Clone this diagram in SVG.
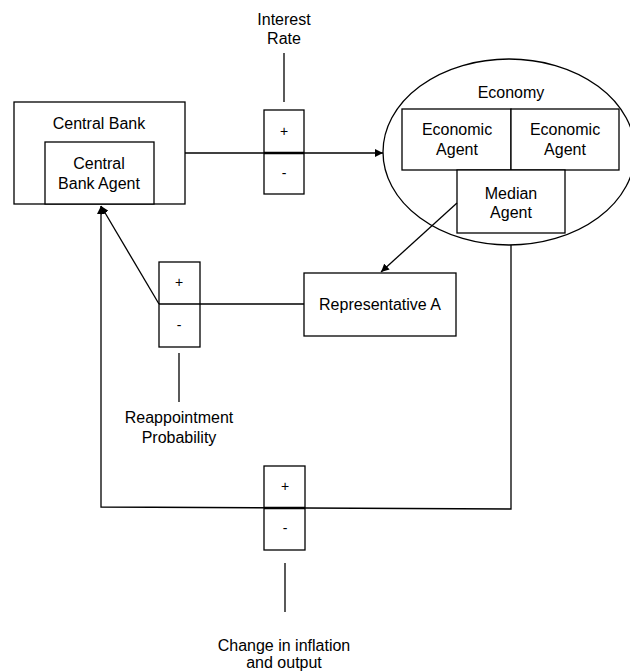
<svg xmlns="http://www.w3.org/2000/svg" width="630" height="672" viewBox="0 0 630 672">
<style>
.box{fill:#fff;stroke:#000;stroke-width:1.3}
.ln{fill:none;stroke:#000;stroke-width:1.3}
.mid{stroke:#000;stroke-width:2.5}
.t{font-family:"Liberation Sans",Arial,sans-serif;font-size:16px;fill:#000;text-anchor:middle}
.s{font-family:"Liberation Sans",Arial,sans-serif;font-size:14px;fill:#000;text-anchor:middle}
</style>
<defs>
<marker id="ah" viewBox="0 0 10 10" refX="10" refY="5" markerWidth="8" markerHeight="8" markerUnits="userSpaceOnUse" orient="auto">
<path d="M0,0 L10,5 L0,10 z" fill="#000"/>
</marker>
</defs>
<rect width="630" height="672" fill="#fff"/>
<g id="central-bank">
<rect class="box" x="14" y="102" width="171" height="102"/>
<text class="t" x="99" y="129">Central Bank</text>
</g>
<g id="central-bank-agent">
<rect class="box" x="45" y="142" width="109" height="62"/>
<text class="t" x="99" y="169">Central</text>
<text class="t" x="99" y="189">Bank Agent</text>
</g>
<g id="interest-rate">
<text class="t" x="284" y="25">Interest</text>
<text class="t" x="284" y="44">Rate</text>
</g>
<g id="sign-top">
<rect class="box" x="264" y="110" width="40" height="84"/>
<text class="s" x="284" y="136">+</text>
<text class="s" x="284" y="178">-</text>
</g>
<g id="economy">
<ellipse class="box" cx="509" cy="152" rx="126" ry="93"/>
<text class="t" x="511" y="98">Economy</text>
</g>
<g id="economic-agent-1">
<rect class="box" x="402" y="109" width="109" height="61"/>
<text class="t" x="457" y="135">Economic</text>
<text class="t" x="457" y="155">Agent</text>
</g>
<g id="economic-agent-2">
<rect class="box" x="511" y="109" width="108" height="61"/>
<text class="t" x="565" y="135">Economic</text>
<text class="t" x="565" y="155">Agent</text>
</g>
<g id="median-agent">
<rect class="box" x="457" y="170" width="108" height="63"/>
<text class="t" x="511" y="199">Median</text>
<text class="t" x="511" y="218">Agent</text>
</g>
<g id="sign-left">
<rect class="box" x="159" y="262" width="41" height="85"/>
<text class="s" x="179" y="287">+</text>
<text class="s" x="179" y="330">-</text>
</g>
<g id="representative-a">
<rect class="box" x="304" y="273" width="152" height="63"/>
<text class="t" x="380" y="310">Representative A</text>
</g>
<g id="reappointment">
<text class="t" x="179" y="423">Reappointment</text>
<text class="t" x="179" y="443">Probability</text>
</g>
<g id="sign-bottom">
<rect class="box" x="264" y="466" width="41" height="84"/>
<text class="s" x="285" y="491">+</text>
<text class="s" x="285" y="533">-</text>
</g>
<g id="change">
<text class="t" x="284" y="651">Change in inflation</text>
<text class="t" x="284" y="668">and output</text>
</g>
<g id="connectors">
<line class="ln" x1="185" y1="153" x2="383" y2="153" marker-end="url(#ah)"/>
<line class="mid" x1="264" y1="153" x2="304" y2="153"/>
<line class="ln" x1="284" y1="53" x2="284" y2="102"/>
<line class="ln" x1="457" y1="203" x2="381" y2="272" marker-end="url(#ah)"/>
<line class="ln" x1="159" y1="304" x2="304" y2="304"/>
<line class="ln" x1="159" y1="304" x2="101" y2="206" marker-end="url(#ah)"/>
<line class="ln" x1="179" y1="353" x2="179" y2="402"/>
<polyline class="ln" points="511,245 511,509 101,507 101,206" marker-end="url(#ah)"/>
<line class="mid" x1="264" y1="508" x2="305" y2="508"/>
<line class="ln" x1="285" y1="563" x2="285" y2="612"/>
</g>
</svg>
